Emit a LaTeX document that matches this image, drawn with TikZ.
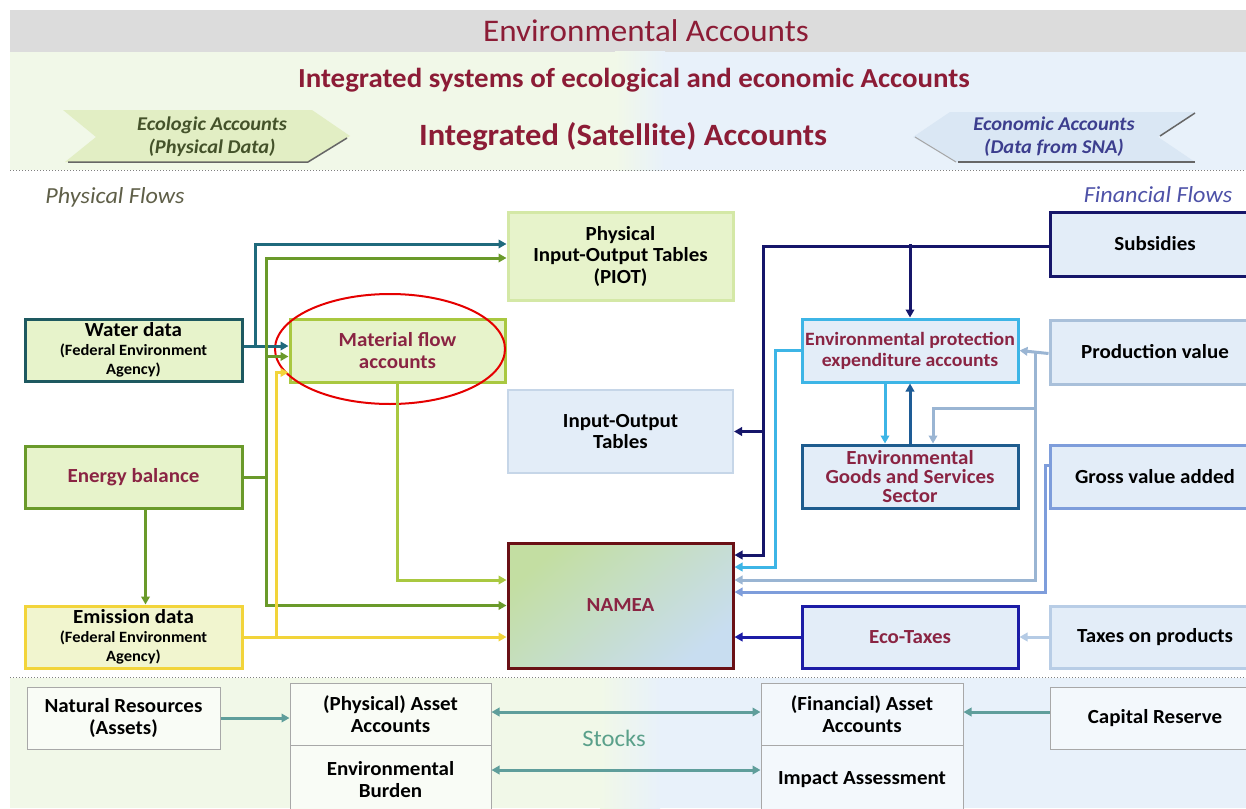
\documentclass[tikz,border=0pt]{standalone}
\usepackage{fontspec}
\setmainfont[FakeStretch=1.05]{Carlito}
\usetikzlibrary{arrows.meta,shapes.geometric}
\definecolor{titlered}{HTML}{8C1C36}
\definecolor{boxred}{HTML}{8A2443}
\definecolor{bandgray}{HTML}{DCDCDC}
\definecolor{bggreen}{HTML}{F1F8E8}
\definecolor{bgblue}{HTML}{E8F1FA}
\definecolor{chevgreen}{HTML}{E2EEC4}
\definecolor{chevblue}{HTML}{DAE7F4}
\definecolor{chevgtext}{HTML}{44522A}
\definecolor{chevbtext}{HTML}{3C3E8E}
\definecolor{physflow}{HTML}{5F5F48}
\definecolor{finflow}{HTML}{4E52A8}
\definecolor{gfill}{HTML}{E7F3CB}
\definecolor{bfill}{HTML}{E3EDF8}
\definecolor{cteal}{HTML}{1F6A7C}
\definecolor{cgreen}{HTML}{6A9A2A}
\definecolor{cyellow}{HTML}{F2D43A}
\definecolor{cmfa}{HTML}{A9C840}
\definecolor{cnavy}{HTML}{16166A}
\definecolor{ccyan}{HTML}{3DB5E6}
\definecolor{cegss}{HTML}{1E5C96}
\definecolor{cprod}{HTML}{9AB5D3}
\definecolor{cgva}{HTML}{7E9DDB}
\definecolor{ctax}{HTML}{B5CBE5}
\definecolor{ceco}{HTML}{1C1CA6}
\definecolor{cstock}{HTML}{5F9E9B}
\definecolor{piotb}{HTML}{D4E8A6}
\definecolor{waterb}{HTML}{1E5960}
\definecolor{iotb}{HTML}{C6D6E8}
\definecolor{emisf}{HTML}{F1F5CF}
\definecolor{nameab}{HTML}{6A1015}
\definecolor{nameag}{HTML}{C3DEA2}
\definecolor{nameabl}{HTML}{C8DDF0}
\definecolor{prodb}{HTML}{A9C0DA}
\definecolor{egssb}{HTML}{1E5C8E}
\definecolor{taxb}{HTML}{B8CDE6}
\definecolor{stockb}{HTML}{A8A8A8}
\definecolor{stocktext}{HTML}{5AA08A}
\newcommand\smf{\fontsize{15.7}{19}\selectfont}
\begin{document}
\begin{tikzpicture}[x=1pt,y=-1pt,
  box/.style={draw, rectangle, line width=3pt, align=center, inner sep=1pt,
    font=\bfseries\fontsize{20}{21.5}\selectfont},
  sbox/.style={draw=stockb, rectangle, line width=1pt, align=center, inner sep=1pt,
    font=\bfseries\fontsize{20}{22}\selectfont},
  conn/.style={line width=3pt, -{Triangle[length=8pt,width=8.5pt]}},
  plain/.style={line width=3pt},
  stk/.style={line width=3pt, cstock, -{Triangle[length=8pt,width=8.5pt]}},
  stk2/.style={line width=3pt, cstock, {Triangle[length=8pt,width=8.5pt]}-{Triangle[length=8pt,width=8.5pt]}}
]
\clip (0,0) rectangle (1246,808);
\fill[white] (0,0) rectangle (1246,808);
% backgrounds
\fill[bandgray] (10,10) rectangle (1246,52);
\fill[bggreen] (10,52) rectangle (615,170);
\shade[left color=bggreen, right color=bgblue] (615,52) rectangle (665,170);
\fill[bgblue] (665,52) rectangle (1246,170);
\fill[bggreen] (10,678) rectangle (600,808);
\shade[left color=bggreen, right color=bgblue] (600,678) rectangle (660,808);
\fill[bgblue] (660,678) rectangle (1246,808);
\draw[gray, dotted, line width=1pt] (10,170) -- (1246,170);
\draw[gray, dotted, line width=1pt] (10,677) -- (1246,677);
% titles
\node[titlered, font=\fontsize{31.5}{34}\selectfont] (title) at (646,31) {Environmental Accounts};
\node[titlered, font=\bfseries\fontsize{27.5}{30}\selectfont] (sub) at (634,80) {Integrated systems of ecological and economic Accounts};
\node[titlered, font=\bfseries\fontsize{31}{34}\selectfont] (sat) at (623,137) {Integrated (Satellite) Accounts};
% chevrons
\fill[chevgreen] (63,110) -- (312,110) -- (350,136) -- (308,162) -- (65,162) -- (96,137) -- cycle;
\draw[gray!80!black, line width=1.5pt] (68,162) -- (308,162) -- (347,138);
\node[chevgtext, font=\bfseries\itshape\fontsize{19.5}{23}\selectfont, align=center] (eco) at (212,137) {Ecologic Accounts\\(Physical Data)};
\fill[chevblue] (913,137) -- (950,112) -- (1195,112) -- (1158,137) -- (1195,162) -- (956,162) -- cycle;
\draw[gray!70, line width=1pt] (915,137) -- (956,162);
\draw[gray!80!black, line width=1.5pt] (958,162) -- (1195,162);
\draw[gray!80!black, line width=1.5pt] (1160,136) -- (1195,113);
\node[chevbtext, font=\bfseries\itshape\fontsize{19.5}{23}\selectfont, align=center] (econ) at (1054,137) {Economic Accounts\\(Data from SNA)};
\node[physflow, font=\itshape\fontsize{23}{26}\selectfont] (pf) at (115,197) {Physical Flows};
\node[finflow, font=\itshape\fontsize{23}{26}\selectfont] (ff) at (1158,195) {Financial Flows};
% left boxes
\node[box, draw=piotb, fill=gfill, minimum width=225pt, minimum height=88pt] (piot) at (620.5,256) {Physical\\Input-Output Tables\\(PIOT)};
\node[box, draw=waterb, fill=gfill, minimum width=217pt, minimum height=62pt, font=\bfseries\fontsize{20}{19}\selectfont] (water) at (133.5,350) {Water data\\\smf(Federal Environment\\\smf Agency)};
\node[box, draw=cmfa, fill=gfill, text=boxred, minimum width=215pt, minimum height=63pt] (mfa) at (397.5,350.5) {Material flow\\accounts};
\node[box, draw=iotb, fill=bfill, line width=2pt, minimum width=225pt, minimum height=83pt] (iot) at (620.5,431.5) {Input-Output\\Tables};
\node[box, draw=cgreen, fill=gfill, text=boxred, minimum width=217pt, minimum height=62pt] (energy) at (133.5,477) {Energy balance};
\node[box, draw=cyellow, fill=emisf, minimum width=217pt, minimum height=62pt, font=\bfseries\fontsize{20}{19}\selectfont] (emis) at (133.5,637) {Emission data\\\smf(Federal Environment\\\smf Agency)};
\node[box, draw=nameab, top color=nameag, bottom color=nameabl, shading angle=40, text=boxred, minimum width=225pt, minimum height=125pt] (namea) at (620.5,605.5) {NAMEA};
% right boxes
\node[box, draw=cnavy, fill=bfill, minimum width=210pt, minimum height=64pt] (subs) at (1155,244) {Subsidies};
\node[box, draw=ccyan, fill=bfill, text=boxred, minimum width=216pt, minimum height=63pt, font=\bfseries\fontsize{18.8}{21}\selectfont] (epea) at (910,350.5) {Environmental protection\\expenditure accounts};
\node[box, draw=prodb, fill=bfill, minimum width=210pt, minimum height=64pt] (prod) at (1155,352) {Production value};
\node[box, draw=egssb, fill=bfill, text=boxred, minimum width=216pt, minimum height=63pt, font=\bfseries\fontsize{20}{19}\selectfont] (egss) at (910,476.5) {Environmental\\Goods and Services\\Sector};
\node[box, draw=cgva, fill=bfill, minimum width=210pt, minimum height=63pt] (gva) at (1155,476.5) {Gross value added};
\node[box, draw=ceco, fill=bfill, text=boxred, minimum width=216pt, minimum height=62pt] (ecotax) at (910,637) {Eco-Taxes};
\node[box, draw=taxb, fill=bfill, minimum width=210pt, minimum height=62pt] (tax) at (1155,637) {Taxes on products};
% ellipse highlight
\draw[red!90!black, line width=2pt] (390,349) ellipse [x radius=115, y radius=55];
% left connectors
\draw[conn, cteal] ([yshift=4pt]water.east) -- ++(12,0) |- ([yshift=12pt]piot.west);
\draw[conn, cteal] ([yshift=4pt]water.east) -- ([yshift=4.5pt]mfa.west);
\draw[conn, cgreen] (energy.east) -- ++(23,0) |- ([yshift=-2pt]piot.west);
\draw[conn, cgreen] (energy.east) -- ++(23,0) |- ([yshift=-6pt]mfa.west);
\draw[conn, cgreen] (energy.east) -- ++(23,0) |- (namea.west);
\draw[conn, cgreen] ([xshift=12pt]energy.south) -- ([xshift=12pt]emis.north);
\draw[conn, cyellow] (emis.east) -- ++(33,0) |- ([yshift=-22pt]mfa.west);
\draw[conn, cyellow] (emis.east) -- ([yshift=-31.5pt]namea.west);
\draw[conn, cmfa] (mfa.south) |- ([yshift=25.5pt]namea.west);
% right connectors
\coordinate (navyj) at (763,431.5);
\coordinate (prodj) at (1035,408);
\draw[conn, cprod] ([yshift=-1.5pt]prod.west) -- ([yshift=0pt]epea.east);
\draw[plain, cprod] (1035,352) -- (1035,408);
\draw[conn, cprod] (prodj) -| ([xshift=23pt]egss.north);
\draw[conn, cprod] (prodj) |- ([yshift=25.5pt]namea.east);
\draw[conn, cgva] ([yshift=11.5pt]gva.west) -| (1045,592) -- ([yshift=13.5pt]namea.east);
\draw[conn, ccyan] ([yshift=0.5pt]epea.west) -| (775,567) -- ([yshift=38.5pt]namea.east);
\draw[conn, ccyan] ([xshift=-25pt]epea.south) -- ([xshift=-25pt]egss.north);
\draw[conn, cegss] (egss.north) -- (epea.south);
\draw[conn, cnavy] ([yshift=-2pt]subs.west) -| (763,555) -- ([yshift=50.5pt]namea.east);
\draw[conn, cnavy] (epea.north |- subs.west) -- (epea.north);
\draw[conn, cnavy] (navyj) -- (iot.east);
\draw[conn, ctax] (tax.west) -- (ecotax.east);
\draw[conn, ceco] (ecotax.west) -- (ecotax.west -| namea.east);
% bottom stocks
\node[sbox, fill=white!60!bggreen, minimum width=193pt, minimum height=62pt] (nat) at (123.5,718) {Natural Resources\\(Assets)};
\node[sbox, fill=white!60!bggreen, minimum width=201pt, minimum height=62pt] (phys) at (390.5,714) {(Physical) Asset\\Accounts};
\node[sbox, fill=white!60!bggreen, minimum width=201pt, minimum height=70pt] (burden) at (390.5,780) {Environmental\\Burden};
\node[sbox, fill=white!50!bgblue, minimum width=202pt, minimum height=62pt] (fin) at (862,714) {(Financial) Asset\\Accounts};
\node[sbox, fill=white!50!bgblue, minimum width=202pt, minimum height=70pt] (impact) at (862,780) {Impact Assessment};
\node[sbox, fill=white!50!bgblue, minimum width=210pt, minimum height=62pt] (cap) at (1155,718) {Capital Reserve};
\node[stocktext, font=\fontsize{23.5}{26}\selectfont] (stocks) at (614,738) {Stocks};
\draw[stk] (nat.east) -- (nat.east -| phys.west);
\draw[stk2] ([yshift=2pt]phys.east) -- ([yshift=2pt]fin.west);
\draw[stk2] ([yshift=10pt]burden.east) -- ([yshift=10pt]impact.west);
\draw[stk] ([yshift=2pt]cap.west |- fin.east) -- ([yshift=2pt]fin.east);
\end{tikzpicture}
\end{document}
